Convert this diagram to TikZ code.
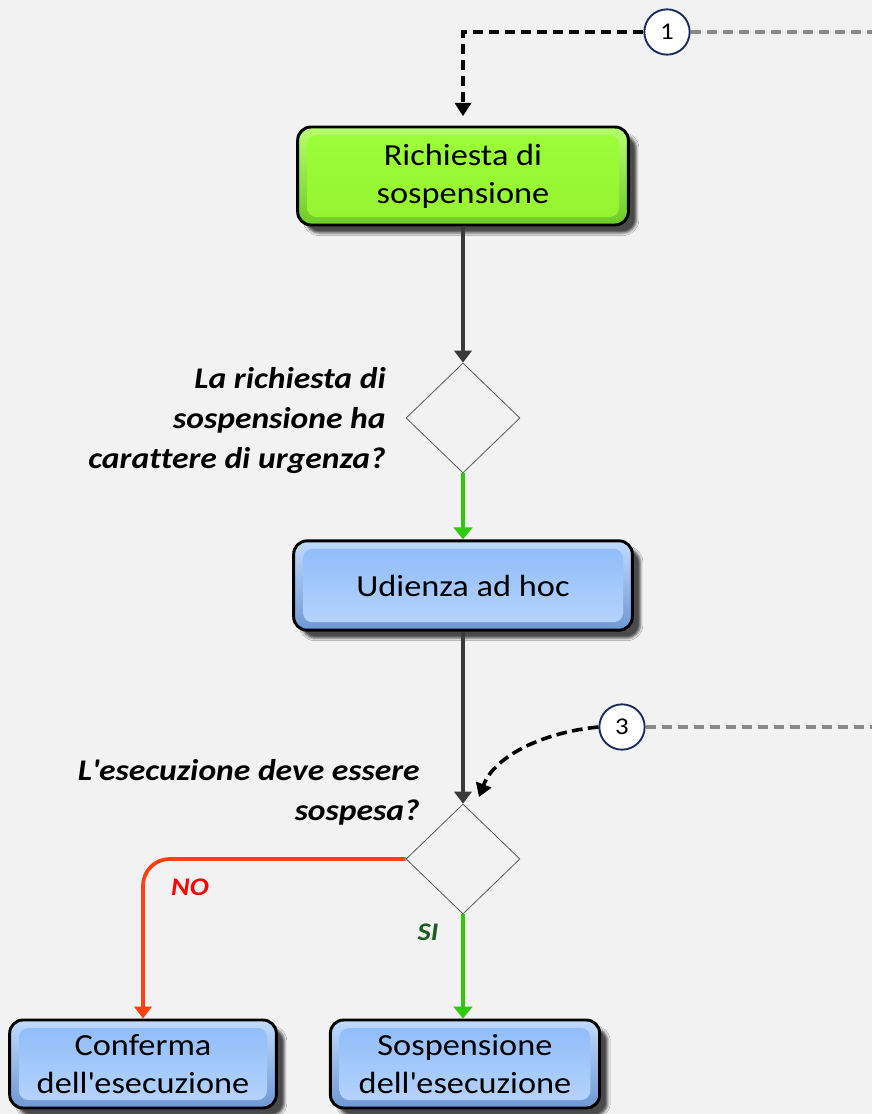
\documentclass[tikz,border=0pt]{standalone}
\usepackage{fontspec}
\setmainfont[FakeStretch=1.12, Ligatures=NoCommon]{Carlito}
\usetikzlibrary{arrows.meta,shapes.geometric,shadows.blur,calc}

\definecolor{bg}{HTML}{F2F2F2}
\definecolor{blueTop}{HTML}{C0DBFC}
\definecolor{blueBot}{HTML}{6E98D4}
\definecolor{blueInTop}{HTML}{8DBBFA}
\definecolor{blueInBot}{HTML}{B8D5FB}
\definecolor{greenTop}{HTML}{B8FF70}
\definecolor{greenBot}{HTML}{6CCB28}
\definecolor{greenInTop}{HTML}{9BFF38}
\definecolor{greenInBot}{HTML}{96F230}
\definecolor{linkdark}{HTML}{3A3A3A}
\definecolor{linkgreen}{HTML}{2FC80A}
\definecolor{linkred}{HTML}{FF4010}
\definecolor{linkgrey}{HTML}{8A8A8A}
\definecolor{navy}{HTML}{1B2A5C}
\definecolor{sigreen}{HTML}{1F5C22}

\tikzset{
  box/.style={draw=black, line width=2.2pt, rounded corners=10pt,
    align=center, inner sep=0pt, text=black,
    font=\fontsize{23}{28.5}\selectfont,
    blur shadow={shadow xshift=6pt, shadow yshift=-6pt,
      shadow blur steps=3, shadow opacity=70}},
  inner/.style 2 args={path picture={
    \shade[top color=#1, bottom color=#2, rounded corners=7pt]
      ($(path picture bounding box.north west)+(7pt,-6pt)$) rectangle
      ($(path picture bounding box.south east)+(-7pt,6pt)$);}},
  bluebox/.style={box, top color=blueTop, bottom color=blueBot,
    inner={blueInTop}{blueInBot}},
  greenbox/.style={box, top color=greenTop, bottom color=greenBot,
    inner={greenInTop}{greenInBot}},
  decision/.style={diamond, aspect=1, draw=black!65, line width=0.6pt,
    inner sep=0pt, minimum width=85.5pt, minimum height=82.5pt},
  question/.style={align=right, inner sep=0pt,
    font=\bfseries\itshape\fontsize{22.5}{30}\selectfont},
  refcircle/.style={circle, draw=navy, line width=1.4pt, fill=white,
    minimum size=34pt, inner sep=0pt, font=\fontsize{18}{18}\selectfont},
  darklink/.style={-{Triangle[width=13pt,length=9pt]}, draw=linkdark, line width=3pt},
  greenlink/.style={-{Triangle[width=14pt,length=9pt]}, draw=linkgreen, line width=2.4pt},
  redlink/.style={-{Triangle[width=13pt,length=9pt]}, draw=linkred, line width=2.8pt},
  dashblack/.style={draw=black, line width=2.7pt, dash pattern=on 8pt off 4pt,
    -{Triangle[width=12pt,length=10pt]}},
  dashgrey/.style={draw=linkgrey, line width=2.7pt, dash pattern=on 8pt off 4pt},
  branch/.style={inner sep=0pt, font=\bfseries\itshape\fontsize{19}{19}\selectfont}
}

\begin{document}
\begin{tikzpicture}[x=0.75pt, y=-0.75pt]
  \fill[bg] (0,0) rectangle (872,1114);
  \useasboundingbox (0,0) rectangle (872,1114);

  % process boxes
  \node[greenbox, minimum width=248pt, minimum height=73.5pt] (req) at (463,176)
    {Richiesta di\\sospensione};
  \node[bluebox, minimum width=254pt, minimum height=67pt] (ud) at (463,585.5)
    {Udienza ad hoc};
  \node[bluebox, minimum width=200pt, minimum height=66pt] (conf) at (143,1064)
    {Conferma\\dell\textquotesingle esecuzione};
  \node[bluebox, minimum width=202pt, minimum height=66pt] (sosp) at (465,1064)
    {Sospensione\\dell\textquotesingle esecuzione};

  % decisions
  \node[decision] (d1) at (463,418) {};
  \node[decision] (d2) at (463,859) {};

  % questions
  \node[question, anchor=north east] (q1) at (386,367)
    {La richiesta di\\sospensione ha\\carattere di urgenza?};
  \node[question, anchor=north east] (q2) at (420,759)
    {L\textquotesingle esecuzione deve essere\\sospesa?};

  % reference circles
  \node[refcircle] (c1) at (667,32) {1};
  \node[refcircle] (c3) at (622,727) {3};
  \coordinate (e1) at (872,32);
  \coordinate (e3) at (872,727);
  \coordinate (d2in) at (479,797);

  % connectors
  \draw[dashgrey] (c1.east) -- (e1);
  \draw[dashgrey] (c3.east) -- (e3);
  \draw[dashblack, shorten >=7pt] (c1.west) -| (req.north);
  \draw[dashblack] (c3.west) .. controls (545,732) and (495,755) .. (d2in);

  \draw[darklink] (req.south) -- (d1.north);
  \draw[greenlink] (d1.south) -- (ud.north);
  \draw[darklink] (ud.south) -- (d2.north);
  \draw[redlink, rounded corners=20pt] (d2.west) -| (conf.north);
  \draw[greenlink] (d2.south) -- (d2.south |- sosp.north);

  % branch labels
  \node[branch, text=red] (no) at (190,887) {NO};
  \node[branch, text=sigreen] (si) at (428,932) {SI};
\end{tikzpicture}
\end{document}
